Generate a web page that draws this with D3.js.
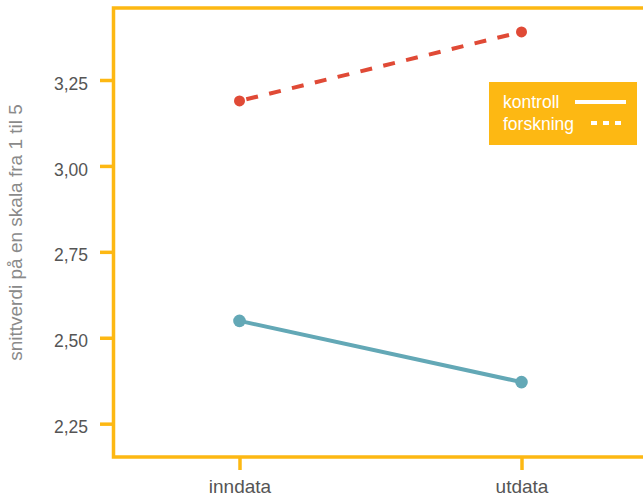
<!DOCTYPE html>
<html>
<head>
<meta charset="utf-8">
<script src="https://cdn.jsdelivr.net/npm/d3@7"></script>
<style>
    body { margin: 0; background: #fff; }
    svg { display: block; font-family: "Liberation Sans", Arial, sans-serif; }
</style>
</head>
<body>
<svg id="chart" width="643" height="497"></svg>
<script>
const periods = ["inndata", "utdata"];
const kontroll = [2.549, 2.371];
const forskning = [3.189, 3.390];
const yTicks = [2.25, 2.50, 2.75, 3.00, 3.25];
const legendLabels = ["kontroll", "forskning"];
const yLimits = [2.153, 3.4595];

const orange = "#fdb813";
const red = "#e04a36";
const blue = "#63a8b6";

window.addEventListener("DOMContentLoaded", draw);

function draw() {
    const svg = d3.select("#chart");
    const panel = { left: 113.5, top: 8, bottom: 457, right: 700 };

    const x = d3.scalePoint()
          .domain(periods)
          .range([239.5, 521.5]);
    const y = d3.scaleLinear()
          .domain(yLimits)
          .range([panel.bottom, panel.top]);

    const fmt = (d) => d3.format(".2f")(d).replace(".", ",");

    // y axis
    const yAxis = svg.append("g")
          .attr("transform", `translate(${panel.left},0)`)
          .call(d3.axisLeft(y).tickValues(yTicks).tickSize(13.5)
                .tickPadding(12).tickFormat(fmt));
    yAxis.select(".domain").remove();
    yAxis.selectAll("line").attr("stroke", orange).attr("stroke-width", 3.5);
    yAxis.selectAll("text")
        .attr("fill", "#555")
        .attr("font-size", "17.5px")
        .attr("font-family", "Liberation Sans, Arial, sans-serif")
        .attr("dy", "0.52em");

    // x axis
    const xAxis = svg.append("g")
          .attr("transform", `translate(0,${panel.bottom})`)
          .call(d3.axisBottom(x).tickSize(13).tickPadding(10));
    xAxis.select(".domain").remove();
    xAxis.selectAll("line").attr("stroke", orange).attr("stroke-width", 3.5);
    xAxis.selectAll("text")
        .attr("fill", "#555")
        .attr("font-size", "19px")
        .attr("font-family", "Liberation Sans, Arial, sans-serif")
        .attr("dy", "0.66em");

    // panel border (right side runs off the canvas)
    svg.append("path")
        .attr("d", `M${panel.right},${panel.top}H${panel.left}V${panel.bottom}H${panel.right}`)
        .attr("fill", "none")
        .attr("stroke", orange)
        .attr("stroke-width", 3.5);

    // y title
    svg.append("text")
        .attr("transform", `translate(22,${(panel.top + panel.bottom) / 2}) rotate(-90)`)
        .attr("text-anchor", "middle")
        .attr("fill", "#8a8a8a")
        .attr("font-size", "19px")
        .text("snittverdi på en skala fra 1 til 5");

    const line = d3.line()
          .x((d, i) => x(periods[i]))
          .y((d) => y(d));

    svg.append("path")
        .attr("d", line(kontroll))
        .attr("fill", "none")
        .attr("stroke", blue)
        .attr("stroke-width", 4);
    svg.selectAll(".pt-k")
        .data(kontroll)
        .enter().append("circle")
        .attr("class", "pt-k")
        .attr("cx", (d, i) => x(periods[i]))
        .attr("cy", (d) => y(d))
        .attr("r", 6.3)
        .attr("fill", blue);

    svg.append("path")
        .attr("d", line(forskning))
        .attr("fill", "none")
        .attr("stroke", red)
        .attr("stroke-width", 4)
        .attr("stroke-dasharray", "12,11.5")
        .attr("stroke-dashoffset", -7);
    svg.selectAll(".pt-f")
        .data(forskning)
        .enter().append("circle")
        .attr("class", "pt-f")
        .attr("cx", (d, i) => x(periods[i]))
        .attr("cy", (d) => y(d))
        .attr("r", 5.5)
        .attr("fill", red);

    // legend
    const legend = svg.append("g").attr("transform", "translate(489,82)");
    legend.append("rect")
        .attr("width", 148)
        .attr("height", 63)
        .attr("fill", orange);
    legend.selectAll("text")
        .data(legendLabels)
        .enter().append("text")
        .attr("x", 14)
        .attr("y", (d, i) => 26 + i * 21.5)
        .attr("fill", "#fff")
        .attr("font-size", "17.5px")
        .text((d) => d);
    legend.append("line")
        .attr("x1", 86).attr("x2", 137)
        .attr("y1", 20).attr("y2", 20)
        .attr("stroke", "#fff")
        .attr("stroke-width", 4);
    legend.append("line")
        .attr("x1", 102).attr("x2", 132)
        .attr("y1", 41).attr("y2", 41)
        .attr("stroke", "#fff")
        .attr("stroke-width", 4)
        .attr("stroke-dasharray", "6,6");
}
</script>
</body>
</html>
